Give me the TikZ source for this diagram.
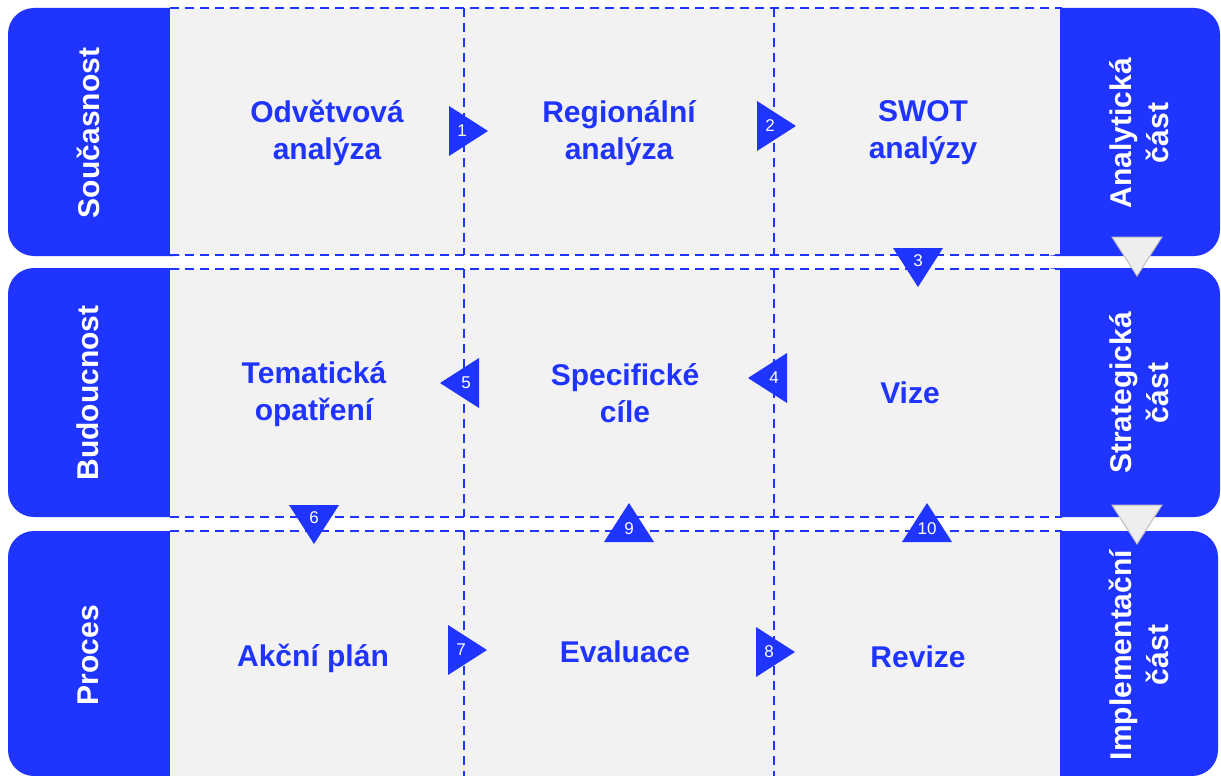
\documentclass[tikz,border=0pt]{standalone}
\usepackage{fontspec}
\setmainfont{Liberation Sans}
\definecolor{myblue}{RGB}{32,52,255}
\definecolor{panel}{RGB}{242,242,242}
\definecolor{trifill}{RGB}{238,238,238}
\definecolor{triedge}{RGB}{190,190,190}
\tikzset{
  bigtext/.style={font=\fontsize{30}{37}\selectfont\bfseries, text=myblue, align=center, inner sep=0pt},
  sidetext/.style={font=\fontsize{30}{37}\selectfont\bfseries, text=white, align=center, rotate=90, inner sep=0pt},
  numtext/.style={font=\fontsize{17}{17}\selectfont, text=white, inner sep=0pt},
  dline/.style={myblue, line width=2.4pt, dash pattern=on 9pt off 6pt},
  bluebox/.style={fill=myblue, rounded corners=26pt},
  panelbox/.style={fill=panel},
  graytri/.style={fill=trifill, draw=triedge, line width=1pt},
}
% #1 name, #2 x, #3 y, #4 angle, #5 number
\newcommand\marktri[5]{%
  \begin{scope}[shift={(#2,#3)},rotate=#4]
    \fill[myblue] (-13,-25) -- (26,0) -- (-13,25) -- cycle;
  \end{scope}
  \node[numtext] (#1) at (#2,#3) {#5};%
}
\begin{document}
\begin{tikzpicture}[x=1pt,y=-1pt]
\useasboundingbox (0,0) rectangle (1221,776);
\fill[white] (0,0) rectangle (1221,776);

% blue side boxes
\fill[bluebox] (8,8) rectangle (200,256);
\fill[bluebox] (8,268) rectangle (200,517);
\fill[bluebox] (8,531) rectangle (200,776);
\fill[bluebox] (1030,8) rectangle (1220,256);
\fill[bluebox] (1030,268) rectangle (1220,517);
\fill[bluebox] (1030,531) rectangle (1218,776);

% gray panels
\fill[panelbox] (170,8) rectangle (1060,255);
\fill[panelbox] (170,269) rectangle (1060,517);
\fill[panelbox] (170,531) rectangle (1060,776);

% dashed lines
\foreach \yy in {8,255,269,517,531}
  \draw[dline] (170,\yy) -- (1062,\yy);
\foreach \xx in {464,774}{
  \draw[dline] (\xx,8) -- (\xx,255);
  \draw[dline] (\xx,269) -- (\xx,517);
  \draw[dline] (\xx,531) -- (\xx,776);
}

% side labels
\node[sidetext] (soucasnost) at (88,133) {Současnost};
\node[sidetext] (budoucnost) at (88,393) {Budoucnost};
\node[sidetext] (proces) at (88,655) {Proces};
\node[sidetext] (analyticka) at (1139,133) {Analytická\\část};
\node[sidetext] (strategicka) at (1139,393) {Strategická\\část};
\node[sidetext] (implementacni) at (1139,655) {Implementační\\část};

% gray transition triangles
\begin{scope}[shift={(1137,250)}]
  \draw[graytri] (-25,-13) -- (25,-13) -- (0,26) -- cycle;
\end{scope}
\begin{scope}[shift={(1137,518)}]
  \draw[graytri] (-25,-13) -- (25,-13) -- (0,26) -- cycle;
\end{scope}

% center texts
\node[bigtext] (odvetvova) at (327,133) {Odvětvová\\analýza};
\node[bigtext] (regionalni) at (619,133) {Regionální\\analýza};
\node[bigtext] (swot) at (923,133) {SWOT\\analýzy};
\node[bigtext] (tematicka) at (314,394) {Tematická\\opatření};
\node[bigtext] (specificke) at (625,393) {Specifické\\cíle};
\node[bigtext] (vize) at (910,393) {Vize};
\node[bigtext] (akcni) at (313,658) {Akční plán};
\node[bigtext] (evaluace) at (625,652) {Evaluace};
\node[bigtext] (revize) at (918,657) {Revize};

% numbered markers
\marktri{n1}{462}{131}{0}{1}
\marktri{n2}{770}{126}{0}{2}
\marktri{n3}{918}{261}{-90}{3}
\marktri{n4}{774}{378}{180}{4}
\marktri{n5}{466}{383}{180}{5}
\marktri{n6}{314}{518}{-90}{6}
\marktri{n7}{461}{650}{0}{7}
\marktri{n8}{769}{652}{0}{8}
\marktri{n9}{629}{529}{90}{9}
\marktri{n10}{927}{529}{90}{10}
\end{tikzpicture}
\end{document}
